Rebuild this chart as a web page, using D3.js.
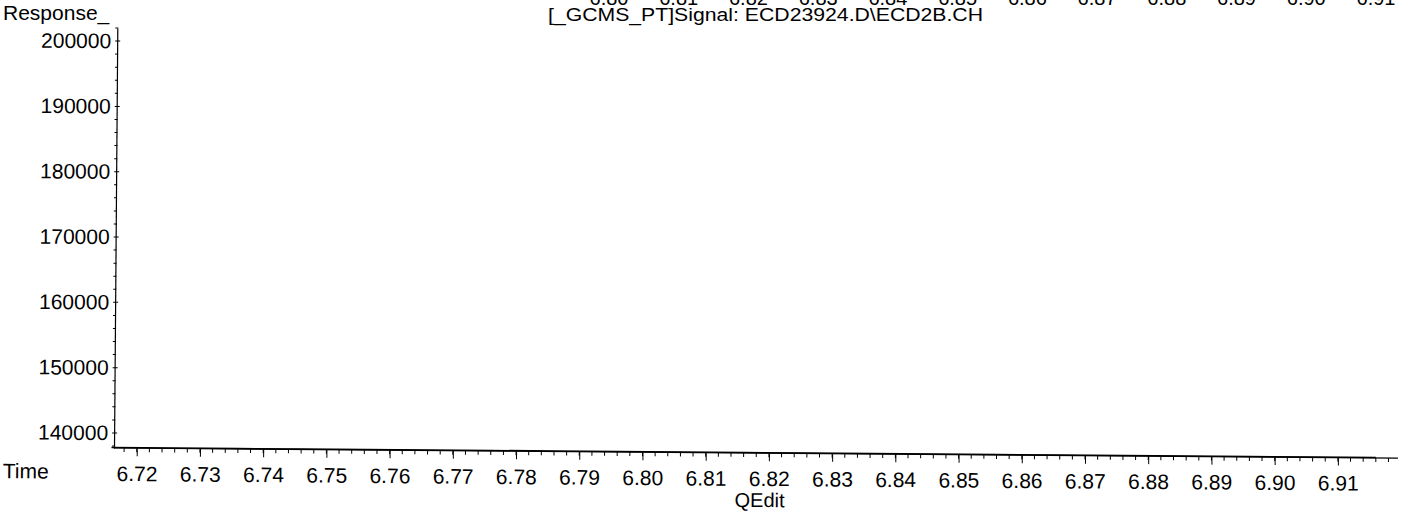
<!DOCTYPE html>
<html>
<head>
<meta charset="utf-8">
<script src="https://cdn.jsdelivr.net/npm/d3@7"></script>
<style>
  html, body { margin: 0; padding: 0; background: #fff; }
  svg { display: block; }
  text { font-family: "Liberation Sans", Arial, sans-serif; fill: #000; }
</style>
</head>
<body>
<svg id="chart" width="1411" height="515"></svg>
<script>
// ---- data ----
const xTickLabels = ["6.72","6.73","6.74","6.75","6.76","6.77","6.78","6.79","6.80","6.81","6.82","6.83","6.84","6.85","6.86","6.87","6.88","6.89","6.90","6.91"];
const yTickValues = [140000, 150000, 160000, 170000, 180000, 190000, 200000];
const topGhostLabels = ["6.80","6.81","6.82","6.83","6.84","6.85","6.86","6.87","6.88","6.89","6.90","6.91"];
const signalTimes = [6.716, 6.726, 6.736, 6.746, 6.756, 6.766, 6.776, 6.786, 6.796, 6.806, 6.816, 6.826, 6.836, 6.846, 6.856, 6.866, 6.876, 6.886, 6.896, 6.906, 6.916];
const signalValues = [137760, 137770, 137760, 137765, 137760, 137770, 137775, 137765, 137760, 137765, 137760, 137770, 137765, 137760, 137770, 137760, 137755, 137760, 137755, 137760, 137755];
const titleText = "[_GCMS_PT]Signal: ECD23924.D\\ECD2B.CH";

const svg = d3.select("#chart");

// ---- scales ----
const x = d3.scaleLinear().domain([6.7164, 6.9195]).range([114, 1398]);
const y = d3.scaleLinear().domain([137700, 202000]).range([448, 28]);
const xTop = d3.scaleLinear().domain([6.80, 6.91]).range([609, 1376]);

// ---- top texts (not rotated) ----
svg.append("text").attr("x", 3).attr("y", 20).style("font-size", "21px").text("Response_");
svg.append("text").attr("x", 548).attr("y", 21).style("font-size", "17.5px")
  .attr("textLength", 435).attr("lengthAdjust", "spacingAndGlyphs").text(titleText);

// ghost tick labels from the panel above (mostly cut off, as in the scan)
svg.append("g").selectAll("text").data(topGhostLabels).join("text")
  .attr("x", d => xTop(+d)).attr("y", 5).attr("text-anchor", "middle")
  .style("font-size", "20px").text(d => d);

// ---- main rotated group (scan tilt) ----
const g = svg.append("g").attr("transform", "rotate(0.45,114,448)");

// y axis
const yAxis = d3.axisLeft(y).tickValues(yTickValues).tickSize(0).tickPadding(6).tickFormat(d3.format("d"));
const yG = g.append("g").attr("transform", "translate(114,0)").call(yAxis);
yG.select(".domain").attr("stroke", "#000").attr("stroke-width", 1.2);
yG.selectAll("text").style("font-size", "21px").style("font-family", "Liberation Sans, Arial, sans-serif").attr("fill", "#000");
// y minor ticks
const yMinor = d3.range(138000, 202001, 2000);
g.append("g").selectAll("line").data(yMinor).join("line")
  .attr("x1", 112).attr("x2", d => (d % 10000 === 0 ? 117 : 115))
  .attr("y1", d => y(d)).attr("y2", d => y(d)).attr("stroke", "#000").attr("stroke-width", 1);

// x axis
const xAxis = d3.axisBottom(x).tickValues(xTickLabels.map(Number)).tickSize(8).tickPadding(10)
  .tickFormat((d, i) => xTickLabels[i]);
const xG = g.append("g").attr("transform", "translate(0,448)").call(xAxis);
xG.select(".domain").attr("stroke", "#000").attr("stroke-width", 1.2).attr("d", `M114,0H1398`);
xG.selectAll(".tick line").attr("stroke", "#000");
xG.selectAll("text").style("font-size", "21px").style("font-family", "Liberation Sans, Arial, sans-serif").attr("fill", "#000");
// x minor ticks
const xMinor = d3.range(6.718, 6.919, 0.002);
g.append("g").selectAll("line").data(xMinor).join("line")
  .attr("x1", d => x(d)).attr("x2", d => x(d)).attr("y1", 448).attr("y2", 452)
  .attr("stroke", "#000").attr("stroke-width", 1);

// signal trace
const line = d3.line().x((d, i) => x(signalTimes[i])).y(d => y(d));
g.append("path").datum(signalValues).attr("d", line)
  .attr("fill", "none").attr("stroke", "#000").attr("stroke-width", 1.5);

// axis titles
g.append("text").attr("x", 3).attr("y", 479).style("font-size", "21px").text("Time");
g.append("text").attr("x", 760).attr("y", 502).attr("text-anchor", "middle").style("font-size", "20px").text("QEdit");
</script>
</body>
</html>
